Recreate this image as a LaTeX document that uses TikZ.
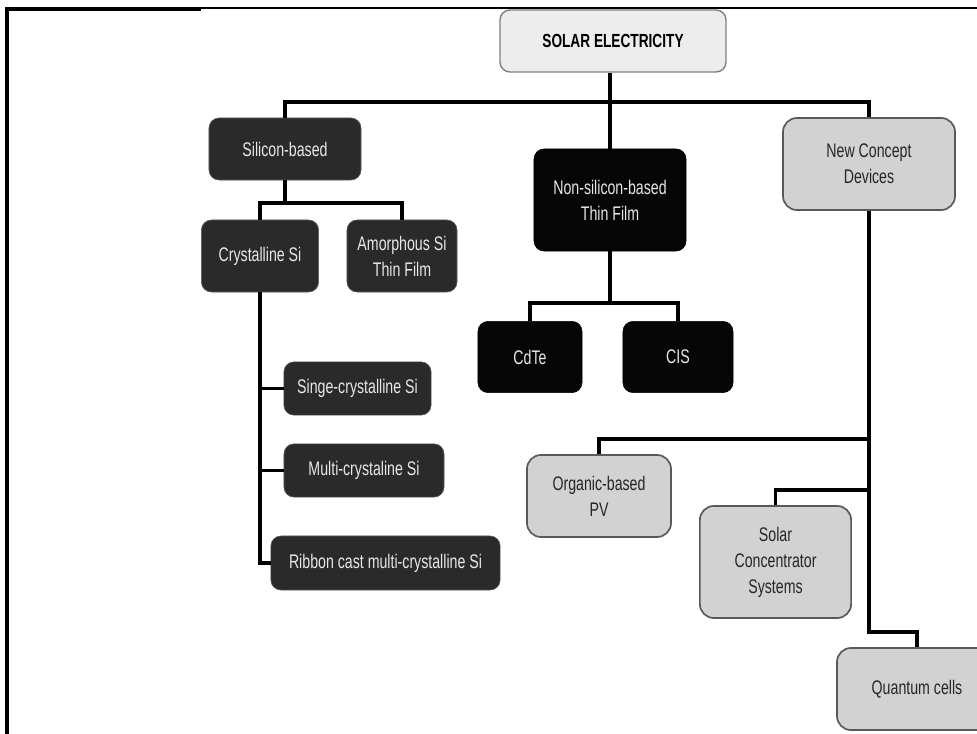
\documentclass[tikz,border=0pt]{standalone}
\usepackage{fontspec}
\setmainfont{Liberation Sans}[FakeStretch=0.72]
\usetikzlibrary{positioning}
\definecolor{darkbox}{HTML}{2A2A2A}
\definecolor{blackbox}{HTML}{060606}
\definecolor{greybox}{HTML}{D2D2D2}
\definecolor{topbox}{HTML}{EDEDED}
\definecolor{boxtext}{HTML}{E8E8E8}

\begin{document}
\begin{tikzpicture}[x=0.025cm, y=-0.025cm,
    darknode/.style={rectangle, rounded corners=0.25cm, fill=darkbox, draw=gray!70!black, text=boxtext, align=center, font=\fontsize{14}{18.5}\selectfont},
    blacknode/.style={darknode, fill=blackbox, draw=black},
    greynode/.style={rectangle, rounded corners=0.35cm, fill=greybox, draw=black!65, line width=1.2pt, text=black!85, align=center, font=\fontsize{14}{18.5}\selectfont},
    link/.style={line width=2.2pt}]
  \useasboundingbox (0,0) rectangle (977,734);
  \clip (0,0) rectangle (977,734);
  % Frame
  \draw[line width=2.2pt] (7,734) -- (7,9) -- (201,9);
  \draw[line width=1.4pt] (201,8) -- (977,8);
  % Nodes
  \node (solar) [rectangle, rounded corners=0.25cm, fill=topbox, draw=black!50, line width=1pt, minimum width=5.65cm, minimum height=1.55cm, font=\fontsize{13.5}{16}\selectfont\bfseries] at (613,41) {SOLAR ELECTRICITY};
  \node (silicon) [darknode, minimum width=3.8cm, minimum height=1.55cm] at (285,149) {Silicon-based};
  \node (cryst) [darknode, minimum width=2.93cm, minimum height=1.8cm] at (260,256) {Crystalline Si};
  \node (amor) [darknode, minimum width=2.75cm, minimum height=1.8cm] at (402,256) {Amorphous Si\\Thin Film};
  \node (single) [darknode, minimum width=3.68cm, minimum height=1.33cm] at (357.5,388.5) {Singe-crystalline Si};
  \node (multi) [darknode, minimum width=4cm, minimum height=1.33cm] at (364,470.5) {Multi-crystaline Si};
  \node (ribbon) [darknode, minimum width=5.73cm, minimum height=1.35cm] at (385.5,563) {Ribbon cast multi-crystalline Si};
  \node (nonsi) [blacknode, minimum width=3.8cm, minimum height=2.55cm] at (610,200) {Non-silicon-based\\Thin Film};
  \node (cdte) [blacknode, minimum width=2.6cm, minimum height=1.78cm] at (530,357) {CdTe};
  \node (cis) [blacknode, minimum width=2.75cm, minimum height=1.78cm] at (678,357) {CIS};
  \node (newc) [greynode, minimum width=4.3cm, minimum height=2.3cm] at (869,164) {New Concept\\Devices};
  \node (organic) [greynode, minimum width=3.6cm, minimum height=2.05cm] at (599,496) {Organic-based\\PV};
  \node (conc) [greynode, minimum width=3.78cm, minimum height=2.8cm] at (775.5,562) {Solar\\Concentrator\\Systems};
  \node (quantum) [greynode, minimum width=4cm, minimum height=2.05cm] at (917,689) {Quantum cells};
  % Branch points
  \coordinate (mainbar) at (610,102);
  \coordinate (sibar) at (285,203);
  \coordinate (nsbar) at (610,303);
  \coordinate (nc-1) at (869,439);
  \coordinate (nc-2) at (869,490);
  \coordinate (nc-3) at (869,632);
  % Lines
  \draw[link] (solar.south -| mainbar) -- (nonsi.north);
  \draw[link] (silicon.north) |- (mainbar) -| (newc.north);
  \draw[link] (silicon.south) -- (sibar);
  \draw[link] (cryst.north) |- (sibar) -| (amor.north);
  \draw[link] (cryst.south) |- (single.west);
  \draw[link] (cryst.south) |- (multi.west);
  \draw[link] (cryst.south) |- (ribbon.west);
  \draw[link] (nonsi.south) -- (nsbar);
  \draw[link] (cdte.north) |- (nsbar) -| (cis.north);
  \draw[link] (newc.south) -- (nc-3) -| (quantum.north);
  \draw[link] (nc-1) -| (organic.north);
  \draw[link] (nc-2) -| (conc.north);
\end{tikzpicture}
\end{document}
